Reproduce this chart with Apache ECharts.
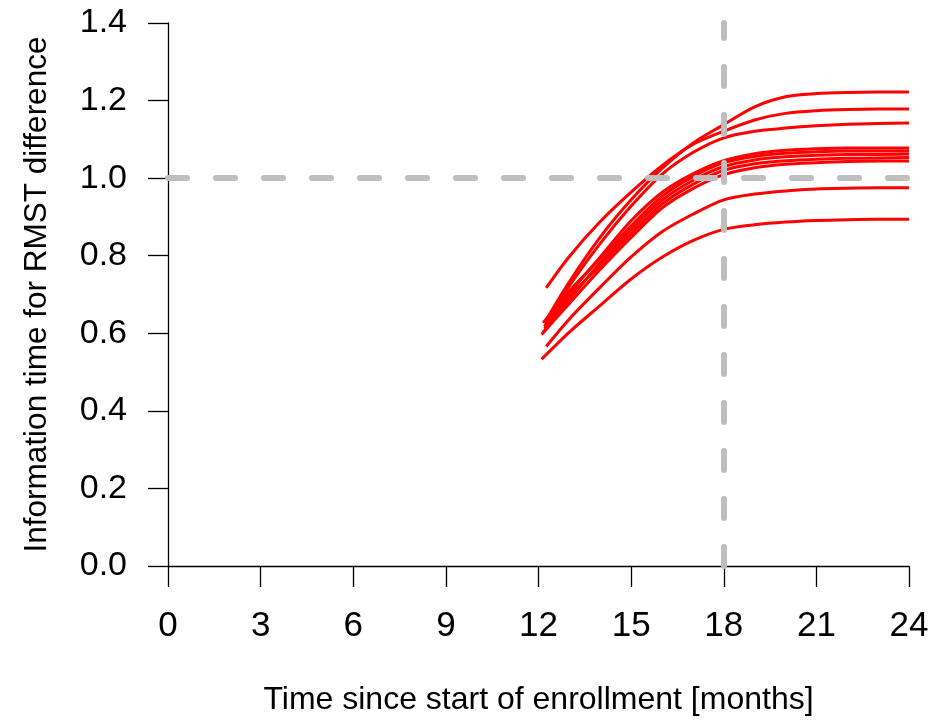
<!DOCTYPE html>
<html>
<head>
<meta charset="utf-8">
<script src="https://cdn.jsdelivr.net/npm/echarts@6/dist/echarts.min.js"></script>
<style>
  html, body { margin: 0; padding: 0; background: #fff; }
  #chart { width: 932px; height: 724px; }
</style>
</head>
<body>
<div id="chart"></div>
<script>
// Information time for the RMST difference, one curve per simulated trial.
// Each curve starts at its own first analysis time, then follows the monthly grid.
const months = [13, 14, 15, 16, 17, 18, 19, 20, 21, 22, 23, 24];

const startMonth = [12.2, 12.25, 12.2, 12.2, 12.15, 12.15, 12.2, 12.1, 12.25, 12.1];

const run01 = [0.628, 0.733, 0.848, 0.944, 1.025, 1.090, 1.138, 1.184, 1.210, 1.218, 1.221, 1.222, 1.222];
const run02 = [0.717, 0.798, 0.888, 0.964, 1.032, 1.087, 1.121, 1.150, 1.167, 1.174, 1.177, 1.178, 1.178];
const run03 = [0.617, 0.722, 0.832, 0.928, 1.010, 1.066, 1.104, 1.121, 1.129, 1.135, 1.139, 1.141, 1.142];
const run04 = [0.612, 0.702, 0.797, 0.890, 0.963, 1.011, 1.045, 1.063, 1.072, 1.076, 1.078, 1.078, 1.078];
const run05 = [0.627, 0.709, 0.792, 0.877, 0.953, 1.004, 1.040, 1.056, 1.064, 1.068, 1.070, 1.070, 1.070];
const run06 = [0.602, 0.687, 0.782, 0.867, 0.943, 0.994, 1.030, 1.047, 1.055, 1.059, 1.061, 1.061, 1.062];
const run07 = [0.617, 0.695, 0.775, 0.857, 0.933, 0.984, 1.020, 1.037, 1.045, 1.049, 1.051, 1.052, 1.053];
const run08 = [0.597, 0.677, 0.765, 0.847, 0.923, 0.973, 1.009, 1.027, 1.036, 1.040, 1.043, 1.044, 1.044];
const run09 = [0.566, 0.637, 0.719, 0.797, 0.862, 0.907, 0.944, 0.959, 0.967, 0.972, 0.974, 0.975, 0.975];
const run10 = [0.533, 0.603, 0.672, 0.740, 0.796, 0.839, 0.868, 0.880, 0.887, 0.891, 0.893, 0.894, 0.894];

const runs = [run01, run02, run03, run04, run05, run06, run07, run08, run09, run10];

const xTicks = [0, 3, 6, 9, 12, 15, 18, 21, 24];
const yTicks = [0.0, 0.2, 0.4, 0.6, 0.8, 1.0, 1.2, 1.4];

const refInfo = 1.0;     // full information
const refMonth = 18;     // planned analysis time

const FONT = 'Liberation Sans, Arial, sans-serif';

function toPairs(run, i) {
  const pts = [[startMonth[i], run[0]]];
  months.forEach((m, k) => pts.push([m, run[k + 1]]));
  return pts;
}

const dashStyle = {
  color: '#bebebe',
  width: 6,
  type: [19, 29],
  cap: 'round'
};

const series = [{
  type: 'line',
  data: [],
  silent: true,
  z: 1,
  markLine: {
    silent: true,
    symbol: 'none',
    label: { show: false },
    lineStyle: dashStyle,
    data: [
      { yAxis: refInfo },
      { xAxis: refMonth }
    ]
  }
}];

runs.forEach((run, i) => {
  series.push({
    type: 'line',
    name: 'run' + (i + 1),
    data: toPairs(run, i),
    showSymbol: false,
    symbol: 'none',
    smooth: 0.3,
    z: 3,
    lineStyle: { color: '#ff0000', width: 3 },
    emphasis: { disabled: true }
  });
});

const chart = echarts.init(document.getElementById('chart'), null, { renderer: 'canvas' });
chart.setOption({
  animation: false,
  backgroundColor: '#ffffff',
  grid: { left: 168, right: 23, top: 23, bottom: 158, containLabel: false },
  xAxis: {
    type: 'value',
    min: xTicks[0],
    max: xTicks[xTicks.length - 1],
    interval: 3,
    name: 'Time since start of enrollment [months]',
    nameLocation: 'middle',
    nameGap: 118,
    nameTextStyle: { fontFamily: FONT, fontSize: 32, color: '#000' },
    axisLine: { onZero: false, lineStyle: { color: '#000', width: 1.3 } },
    axisTick: { length: 21, lineStyle: { color: '#000', width: 1.3 } },
    axisLabel: { fontFamily: FONT, fontSize: 35, color: '#000', margin: 43 },
    splitLine: { show: false }
  },
  yAxis: {
    type: 'value',
    min: yTicks[0],
    max: yTicks[yTicks.length - 1],
    interval: 0.2,
    name: 'Information time for RMST difference',
    nameLocation: 'middle',
    nameGap: 115,
    nameTextStyle: { fontFamily: FONT, fontSize: 31.5, color: '#000' },
    axisLine: { show: true, onZero: false, lineStyle: { color: '#000', width: 1.3 } },
    axisTick: { show: true, length: 20, lineStyle: { color: '#000', width: 1.3 } },
    axisLabel: {
      fontFamily: FONT, fontSize: 34, color: '#000', margin: 41,
      formatter: v => v.toFixed(1)
    },
    splitLine: { show: false }
  },
  series: series
});
</script>
</body>
</html>
